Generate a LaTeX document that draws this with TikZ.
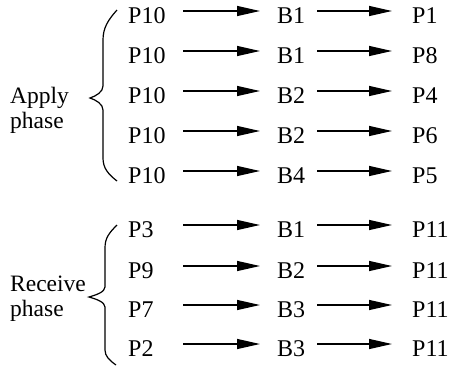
\documentclass[tikz,border=0pt]{standalone}
\usepackage{fontspec}
\setmainfont{Liberation Serif}
\usetikzlibrary{arrows.meta}
\tikzset{
  lbl/.style={inner sep=0pt, font=\fontsize{24}{26}\selectfont, text height=12pt, text depth=0pt, align=left, anchor=north west},
  lcol/.style={lbl, text width=40pt},
  mcol/.style={lbl, text width=28pt},
  rcol/.style={lbl, text width=36pt},
  phase/.style={inner sep=0pt, font=\fontsize{23.5}{25}\selectfont, align=left, anchor=north west},
  arr/.style={line width=1.3pt, -{Triangle[length=23pt,width=10pt]}},
  arrA/.style={arr, shorten <=15pt, shorten >=17pt},
  arrB/.style={arr, shorten <=12pt, shorten >=20pt},
  brace/.style={line width=1.2pt}
}
\begin{document}
\begin{tikzpicture}[x=1pt,y=-1pt]
\useasboundingbox (0,0) rectangle (450,365);
% y = arrow line of each row
\foreach \i/\y/\a/\b/\c in {1/11/P10/B1/P1, 2/51/P10/B1/P8, 3/91/P10/B2/P4, 4/131/P10/B2/P6, 5/171/P10/B4/P5,
  6/225/P3/B1/P11, 7/266/P9/B2/P11, 8/305/P7/B3/P11, 9/344/P2/B3/P11}{
  \node[lcol] (L\i) at (128,\y) {\a};
  \node[mcol] (M\i) at (277,\y) {\b};
  \node[rcol] (R\i) at (412,\y) {\c};
  \draw[arrA] (L\i.north east) -- (M\i.north west);
  \draw[arrB] (M\i.north east) -- (R\i.north west);
}
\node[phase] (apply) at (10,87) {Apply\\phase};
\node[phase] (receive) at (10,276) {Receive\\phase};
\draw[brace] (117,10) .. controls (108,20) and (103,28) .. (103,40) -- (103,86)
  .. controls (103,92) and (96,96) .. (90,98)
  .. controls (96,100) and (103,104) .. (103,110) -- (103,158)
  .. controls (103,168) and (108,174) .. (117,181);
\draw[brace] (117,225) .. controls (109,233) and (105,238) .. (105,248) -- (105,287)
  .. controls (105,292) and (96,295) .. (89,297)
  .. controls (96,299) and (105,302) .. (105,307) -- (105,350)
  .. controls (105,356) and (109,360) .. (116,365);
\end{tikzpicture}
\end{document}
